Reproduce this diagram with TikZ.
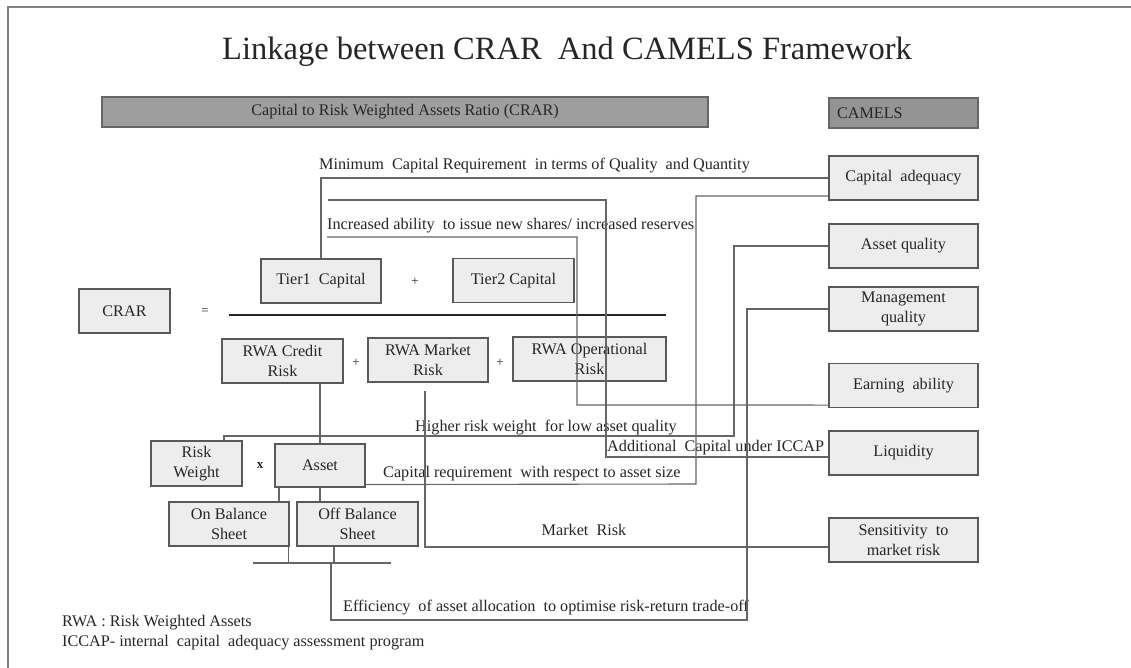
\documentclass[tikz,border=0pt]{standalone}
\usepackage{fontspec}
\setmainfont{Liberation Serif}
\colorlet{linecol}{black!60}
\colorlet{boxfill}{black!7}
\tikzset{
	box/.style={rectangle,draw=black!65,fill=boxfill,line width=1.1pt,align=center,inner sep=0pt,minimum width=120pt,minimum height=44pt},
	hdr/.style={rectangle,draw=black!60,fill=black!38,line width=1.1pt,inner sep=0pt,minimum height=30pt},
	link/.style={draw=linecol,line width=1.1pt},
	lbl/.style={inner sep=0pt,anchor=west},
	sym/.style={inner sep=0pt,font=\fontsize{13}{15}\selectfont},
	every node/.style={text=black!85,font=\fontsize{16.2}{19.5}\selectfont},
	>=stealth,
	}

\begin{document}
\begin{tikzpicture}[x=1pt,y=-1pt]
\useasboundingbox (0,0) rectangle (1131,668);
 \draw[black!50,line width=2pt] (8,668) -- (8,7) -- (1131,7);

\node (title) at (567,52) {\fontsize{32.5}{36}\selectfont Linkage between CRAR\ \ And CAMELS Framework};
\node (hdrcrar) at (405,112) [hdr,minimum width=606pt] {Capital to Risk Weighted Assets Ratio (CRAR)};
\node (hdrcamels) at (903.5,113) [hdr,fill=black!42,text width=133pt,inner xsep=8pt,align=left] {CAMELS};

% CAMELS column
\foreach \n/\y/\t in {capad/178/{Capital\ \ adequacy},assetq/246/{Asset quality},mgmt/309/{Management\\quality},earn/385.5/{Earning\ \ ability},liq/453/{Liquidity},sens/540/{Sensitivity\ \ to\\market risk}}
  \node (\n) at (903.5,\y) [box,minimum width=149pt] {\t};

% CRAR formula
\node (crar) at (124.5,311) [box,minimum width=91pt] {CRAR};
\node (eq) at (205,312) [sym] {=};
\node (tierone) at (321,281) [box] {Tier1\ \ Capital};
\node (tiertwo) at (513.5,280.5) [box,minimum width=121pt] {Tier2 Capital};
\node (rwacr) at (282.5,361) [box,minimum width=121pt] {RWA Credit\\Risk};
\node (rwamk) at (428,360) [box] {RWA Market\\Risk};
\node (rwaop) at (589.5,359) [box,minimum width=153pt] {RWA Operational\\Risk};
\foreach \n/\x/\y in {plusa/415/282,plusb/356/363,plusc/500/363}
  \node (\n) at (\x,\y) [sym] {+};
\coordinate (fracL) at (229,315);
\coordinate (fracR) at (666,315);
\draw[black!85,line width=2.5pt] (fracL) -- (fracR);

\node (rw) at (196.5,463.5) [box,minimum width=91pt,minimum height=45pt] {Risk\\Weight};
\node (times) at (260,466) [sym] {\textbf{x}};
\node (asset) at (320,465.5) [box,minimum width=90pt,minimum height=43pt] {Asset};
\node (onbs) at (229,524) [box] {On Balance\\Sheet};
\node (offbs) at (357.5,524) [box,minimum width=121pt] {Off Balance\\Sheet};

% link labels
\node (lmin) at (319,166) [lbl] {Minimum\ \ Capital Requirement\ \ in terms of Quality\ \ and Quantity};
\node (linc) at (327,226) [lbl] {Increased ability\ \ to issue new shares/ increased reserves};
\node (lhigh) at (415,428) [lbl] {Higher risk weight\ \ for low asset quality};
\node (laddl) at (607,448) [lbl] {Additional\ \ Capital under ICCAP};
\node (lcapreq) at (383,474) [lbl] {Capital requirement\ \ with respect to asset size};
\node (lmkt) at (584,530) {Market\ \ Risk};
\node (leff) at (343,608) [lbl] {Efficiency\ \ of asset allocation\ \ to optimise risk-return trade-off};
\node (nrwa) at (62,623) [lbl] {RWA : Risk Weighted Assets};
\node (niccap) at (62,643) [lbl] {ICCAP- internal\ \ capital\ \ adequacy assessment program};

% connectors
\coordinate (resv) at (328,200);
\coordinate (shares) at (327,237);
\coordinate (barL) at (253,563);
\coordinate (barR) at (391,563);
\coordinate (barJ) at (331,563);
 \draw[link] (tierone.north) |- (capad.west);
 \draw[link] (resv) -| (606,457) -- ([yshift=-4pt]liq.west);
 \draw[link] (shares) -| (577,405) -- ([yshift=3pt]earn.south west);
 \draw[link] ([yshift=-18pt]capad.west) -| (696,484) -- ([yshift=3pt]asset.south east);
 \draw[link] (assetq.west) -| (734,436) -| ([xshift=27.5pt]rw.north);
 \draw[link] (mgmt.west) -| (747,620) -| (barJ);
 \draw[link] (rwacr.south -| asset.north) -- (asset.north);
 \draw[link] ([xshift=-3pt,yshift=-8pt]rwamk.south) |- ([yshift=-7pt]sens.west);
 \draw[link] ([xshift=-41pt]asset.south) -- ([xshift=50pt]onbs.north);
 \draw[link] (asset.south) -- (asset.south |- offbs.north);
 \draw[link] (barL) -- (barR);
 \draw[link] ([xshift=-1pt]onbs.south east) -- ([xshift=-1pt]onbs.south east |- barL);
 \draw[link] ([xshift=-23.5pt]offbs.south) -- ([xshift=-23.5pt]offbs.south |- barL);
\end{tikzpicture}
\end{document}
